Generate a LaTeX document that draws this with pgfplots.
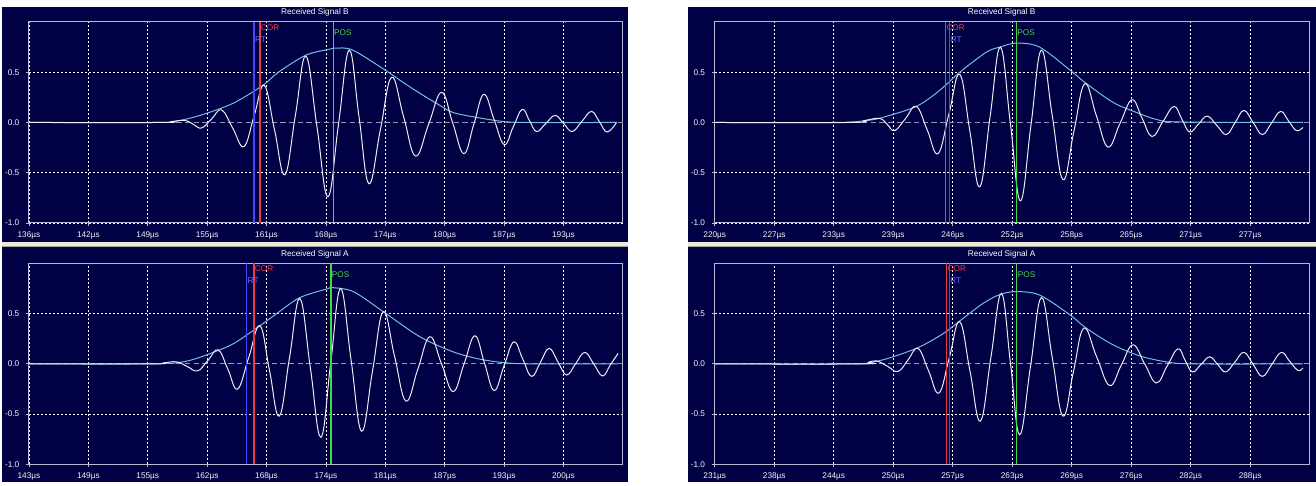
\documentclass[border=0pt]{standalone}
\usepackage{fontspec}
\setmainfont{Liberation Sans}
\usepackage{pgfplots}
\pgfplotsset{compat=1.18}
\definecolor{navy}{RGB}{0,0,68}
\definecolor{boxc}{RGB}{184,184,212}
\definecolor{sigc}{RGB}{236,236,244}
\definecolor{envc}{RGB}{115,190,225}
\definecolor{rtc}{RGB}{70,70,255}
\definecolor{corc}{RGB}{235,60,70}
\definecolor{posc}{RGB}{70,215,70}
\definecolor{zeroc}{RGB}{150,150,178}
\definecolor{cream}{RGB}{236,233,216}
\newcommand{\sm}{\fontsize{6.2}{7}\selectfont}
\tikzset{lab/.style={font=\sm, anchor=west, inner sep=0.6pt}}
\pgfplotsset{
  panel/.style={
    scale only axis, height=150.75pt, anchor=south west,
    ymin=-1, ymax=1,
    ytick={-1,-0.5,0.5}, yticklabels={-1.0,-0.5,0.5},
    extra y ticks={0}, extra y tick labels={0.0}, extra y tick style={grid=none},
    xmajorgrids, ymajorgrids,
    grid style={white, dash pattern=on 1.5pt off 1.5pt, line width=0.5pt},
    axis line style={boxc, line width=0.75pt},
    tick align=outside, tick pos=left, major tick length=2.25pt,
    tick style={boxc, line width=0.6pt},
    tick label style={font=\sm, text=white!92!gray},
    xticklabel style={yshift=-0.8pt},
    yticklabel style={xshift=-1.5pt},
  },
  sig/.style={sigc, line width=0.75pt, smooth, tension=0.7},
  env/.style={envc, line width=0.75pt, smooth},
  zl/.style={zeroc, line width=0.75pt, dash pattern=on 4pt off 2.5pt},
  rt/.style={rtc, line width=0.9pt},
  cor/.style={corc, line width=0.9pt},
  pos/.style={posc, line width=0.9pt},
}
\begin{document}
\begin{tikzpicture}
\fill[white] (0,0) rectangle (987pt,361.5pt);
\fill[navy] (1.5pt,180pt) rectangle (471pt,356.25pt);
\fill[navy] (516pt,180pt) rectangle (987pt,356.25pt);
\fill[navy] (1.5pt,0pt) rectangle (471pt,176.25pt);
\fill[navy] (516pt,0pt) rectangle (987pt,176.25pt);
\fill[cream] (1.5pt,176.25pt) rectangle (471pt,180pt);
\fill[cream] (516pt,176.25pt) rectangle (987pt,180pt);
\draw[gray!70, line width=0.6pt] (1.5pt,176.6pt) -- (471pt,176.6pt);
\draw[gray!70, line width=0.6pt] (516pt,176.6pt) -- (987pt,176.6pt);
\node[font=\sm, text=white] at (236.25pt,352.1pt) {Received Signal B};
\node[font=\sm, text=white] at (751.5pt,352.1pt) {Received Signal B};
\node[font=\sm, text=white] at (236.25pt,170.4pt) {Received Signal A};
\node[font=\sm, text=white] at (751.5pt,170.4pt) {Received Signal A};

% ---------------- Top left: Received Signal B ----------------
\begin{axis}[panel, width=445.5pt, at={(21.75pt,194.25pt)},
  xmin=136, xmax=199.333,
  xtick={136,142.333,148.667,155,161.333,167.667,174,180.333,186.667,193},
  xticklabels={136µs,142µs,149µs,155µs,161µs,168µs,174µs,180µs,187µs,193µs}]
\addplot[zl] coordinates {(136,0) (199.333,0)};
\addplot[env] coordinates {(136,0) (149.97,0) (151.57,0.01) (154.23,0.07) (157.75,0.19) (160.95,0.37) (162.6,0.5) (165.53,0.67) (168.09,0.73) (168.73,0.74) (170.54,0.72) (174.17,0.51) (175.88,0.40) (177.69,0.29) (179.47,0.19) (181.21,0.10) (183.77,0.05) (186.54,0.01) (189,0) (198.66,0)};
\addplot[sig] coordinates {(136.0,0) (149.97,0) (151.3,0.01) (152.63,0.02) (153.52,-0.018) (154.41,-0.055) (155.48,0.035) (156.55,0.125) (157.74,-0.058) (158.92,-0.24) (160.01,0.065) (161.09,0.37) (162.19,-0.075) (163.29,-0.52) (164.41,0.07) (165.53,0.66) (166.71,-0.04) (167.88,-0.74) (169.02,-0.01) (170.15,0.72) (171.20,0.055) (172.25,-0.61) (173.46,-0.08) (174.67,0.45) (175.95,0.058) (177.23,-0.335) (178.62,-0.018) (180.00,0.30) (181.19,-0.005) (182.38,-0.31) (183.45,-0.015) (184.51,0.28) (185.60,0.03) (186.68,-0.22) (187.64,-0.045) (188.60,0.13) (189.37,0.02) (190.13,-0.09) (191.12,-0.01) (192.11,0.07) (193.02,-0.01) (193.93,-0.09) (194.96,0.01) (195.99,0.11) (196.83,0.008) (197.66,-0.095) (198.66,0.0)};
\addplot[rt] coordinates {(160.0,-1) (160.0,1)};
\addplot[cor] coordinates {(160.63,-1) (160.63,1)};
\addplot[pos] coordinates {(168.44,-1) (168.44,1)};
\node[lab, text=corc] at (axis cs:160.63,0.945) {COR};
\node[lab, text=rtc!80!white] at (axis cs:160.0,0.82) {RT};
\node[lab, text=posc] at (axis cs:168.44,0.89) {POS};
\end{axis}

% ---------------- Top right: Received Signal B ----------------
\begin{axis}[panel, width=446.25pt, at={(536.25pt,194.25pt)},
  xmin=220.4, xmax=283.733,
  xtick={220.4,226.733,233.067,239.4,245.733,252.067,258.4,264.733,271.067,277.4},
  xticklabels={220µs,227µs,233µs,239µs,246µs,252µs,258µs,265µs,271µs,277µs}]
\addplot[zl] coordinates {(220.4,0) (283.733,0)};
\addplot[env] coordinates {(220.4,0) (233.35,0) (236.6,0.02) (238.28,0.05) (241.87,0.16) (244.35,0.32) (246.48,0.5) (249.32,0.70) (250.74,0.75) (252.51,0.79) (254.99,0.75) (258.37,0.51) (259.78,0.40) (262.80,0.20) (265.29,0.10) (267.42,0.03) (269.89,0.005) (283.02,0)};
\addplot[sig] coordinates {(220.4,0) (234.77,0) (236.37,0.02) (237.96,0.04) (238.76,-0.02) (239.56,-0.08) (240.72,0.04) (241.87,0.16) (243.02,-0.075) (244.17,-0.31) (245.33,0.085) (246.48,0.48) (247.55,-0.08) (248.61,-0.64) (249.71,0.055) (250.81,0.75) (251.88,-0.015) (252.94,-0.78) (254.06,-0.03) (255.17,0.72) (256.32,0.075) (257.47,-0.57) (258.63,-0.09) (259.78,0.385) (261.02,0.07) (262.26,-0.245) (263.54,-0.01) (264.82,0.225) (265.89,0.043) (266.95,-0.14) (268.12,0.01) (269.29,0.16) (270.13,0.033) (270.96,-0.095) (271.90,-0.016) (272.84,0.063) (273.86,-0.03) (274.87,-0.12) (275.81,0) (276.74,0.12) (277.72,0) (278.70,-0.12) (279.68,-0.005) (280.65,0.11) (281.49,0.015) (282.32,-0.08) (283.02,-0.05)};
\addplot[cor] coordinates {(244.96,-1) (244.96,1)};
\addplot[rt] coordinates {(245.41,-1) (245.41,1)};
\addplot[pos] coordinates {(252.51,-1) (252.51,1)};
\node[lab, text=corc] at (axis cs:244.96,0.945) {COR};
\node[lab, text=rtc!80!white] at (axis cs:245.41,0.82) {RT};
\node[lab, text=posc] at (axis cs:252.51,0.89) {POS};
\end{axis}

% ---------------- Bottom left: Received Signal A ----------------
\begin{axis}[panel, width=445.5pt, at={(21.75pt,13.125pt)},
  xmin=142.6, xmax=205.933,
  xtick={142.6,148.933,155.267,161.6,167.933,174.267,180.6,186.933,193.267,199.6},
  xticklabels={143µs,149µs,155µs,162µs,168µs,174µs,181µs,187µs,193µs,200µs}]
\addplot[zl] coordinates {(142.6,0) (205.933,0)};
\addplot[env] coordinates {(142.6,0) (155.50,0) (159.02,0.02) (161.55,0.09) (164.38,0.20) (167.23,0.38) (169.01,0.50) (171.49,0.66) (174.51,0.75) (174.87,0.76) (177.18,0.72) (180.38,0.52) (184.29,0.27) (187.84,0.12) (190.69,0.047) (193.53,0.01) (196.5,0) (205.43,0)};
\addplot[sig] coordinates {(142.6,0) (155.50,0) (156.93,0.01) (158.35,0.02) (159.47,-0.025) (160.59,-0.07) (161.69,0.035) (162.78,0.14) (163.82,-0.055) (164.85,-0.25) (166.04,0.065) (167.23,0.38) (168.26,-0.07) (169.29,-0.52) (170.39,0.065) (171.49,0.65) (172.61,-0.04) (173.73,-0.73) (174.78,0.01) (175.83,0.75) (176.95,0.04) (178.07,-0.67) (179.23,-0.075) (180.38,0.52) (181.59,0.075) (182.80,-0.37) (184.08,-0.05) (185.35,0.27) (186.60,0) (187.84,-0.275) (189.00,0) (190.15,0.28) (191.18,0.008) (192.21,-0.265) (193.26,-0.02) (194.31,0.22) (195.26,0.048) (196.20,-0.125) (197.14,0.015) (198.07,0.155) (199.00,0.022) (199.93,-0.11) (200.91,0.003) (201.88,0.115) (202.83,0) (203.77,-0.12) (204.6,-0.01) (205.43,0.105)};
\addplot[rt] coordinates {(165.81,-1) (165.81,1)};
\addplot[cor] coordinates {(166.59,-1) (166.59,1)};
\addplot[pos] coordinates {(174.8,-1) (174.8,1)};
\node[lab, text=corc] at (axis cs:166.59,0.95) {COR};
\node[lab, text=rtc!80!white] at (axis cs:165.81,0.83) {RT};
\node[lab, text=posc] at (axis cs:174.8,0.89) {POS};
\end{axis}

% ---------------- Bottom right: Received Signal A ----------------
\begin{axis}[panel, width=446.25pt, at={(536.25pt,13.125pt)},
  xmin=231.4, xmax=294.733,
  xtick={231.4,237.733,244.067,250.4,256.733,263.067,269.4,275.733,282.067,288.4},
  xticklabels={231µs,238µs,244µs,250µs,257µs,263µs,269µs,276µs,282µs,288µs}]
\addplot[zl] coordinates {(231.4,0) (294.733,0)};
\addplot[env] coordinates {(231.4,0) (246.12,0) (248.3,0.02) (250.38,0.07) (253.22,0.17) (255.70,0.30) (257.66,0.44) (259.93,0.60) (261.74,0.69) (263.51,0.72) (265.99,0.685) (269.19,0.49) (270.96,0.355) (273.80,0.19) (276.64,0.08) (279.48,0.02) (282.28,0) (294.02,0)};
\addplot[sig] coordinates {(231.4,0) (246.83,0) (247.72,0.015) (248.61,0.03) (249.76,-0.022) (250.91,-0.075) (251.98,0.04) (253.04,0.155) (254.16,-0.068) (255.27,-0.29) (256.38,0.065) (257.48,0.42) (258.58,-0.075) (259.68,-0.57) (260.80,0.065) (261.92,0.70) (262.89,0) (263.86,-0.705) (265.02,-0.02) (266.17,0.66) (267.32,0.07) (268.47,-0.52) (269.58,-0.08) (270.68,0.355) (272.06,0.07) (273.44,-0.215) (274.68,-0.012) (275.92,0.19) (277.17,0) (278.42,-0.19) (279.57,-0.02) (280.71,0.15) (281.48,0.035) (282.25,-0.08) (283.17,-0.005) (284.09,0.07) (284.94,-0.005) (285.79,-0.08) (286.77,0.017) (287.74,0.115) (288.72,-0.005) (289.70,-0.125) (290.71,-0.005) (291.72,0.115) (292.61,0.025) (293.49,-0.065) (294.02,-0.04)};
\addplot[cor] coordinates {(256.09,-1) (256.09,1)};
\addplot[rt] coordinates {(256.36,-1) (256.36,1)};
\addplot[pos] coordinates {(263.55,-1) (263.55,1)};
\node[lab, text=corc] at (axis cs:256.09,0.95) {COR};
\node[lab, text=rtc!80!white] at (axis cs:256.36,0.83) {RT};
\node[lab, text=posc] at (axis cs:263.55,0.89) {POS};
\end{axis}
\end{tikzpicture}
\end{document}
